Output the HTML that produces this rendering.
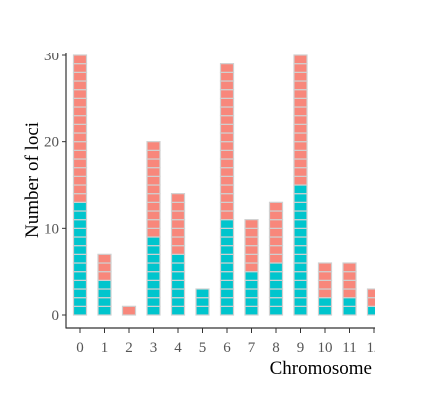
<!DOCTYPE html>
<html><head><meta charset="utf-8"><style>
body{margin:0;background:#fff}
svg{display:block;font-family:"Liberation Serif",serif}
</style></head><body>
<svg width="424" height="400">
<defs><clipPath id="c"><rect x="0" y="53" width="375" height="347"/></clipPath></defs>
<g id="bars" clip-path="url(#c)"></g>
<g id="axes" clip-path="url(#c)"></g>
<text x="38" y="180" transform="rotate(-90 38 180)" text-anchor="middle" font-size="19" fill="#000">Number of loci</text>
<text x="372" y="374" text-anchor="end" font-size="19" fill="#000">Chromosome</text>
</svg>
<script>
const categories=["0","1","2","3","4","5","6","7","8","9","10","11","12"];
const teal=[13,4,0,9,7,3,11,5,6,15,2,2,1];
const salmon=[17,3,1,11,7,0,18,6,7,15,4,4,2];
const yTicks=[0,10,20,30];
const NS="http://www.w3.org/2000/svg";
const y=v=>315-v*8.667;
const x=i=>80+i*24.5;
const bars=document.getElementById('bars'),axes=document.getElementById('axes');
function mk(t,a,p){const e=document.createElementNS(NS,t);for(const k in a)e.setAttribute(k,a[k]);p.appendChild(e);return e;}
categories.forEach((c,i)=>{
  const tot=teal[i]+salmon[i];
  for(let k=0;k<tot;k++){
    const r=mk('rect',{x:x(i)-6.5,y:y(k+1),width:13,height:8.667,fill:k<teal[i]?'#00c5cd':'#f8877b',stroke:'#d0d0d0','stroke-width':1.2},bars);
    
    
  }
  const t=mk('line',{x1:x(i),x2:x(i),y1:328,y2:333,stroke:'#333'},axes);
  
  
  const l=mk('text',{x:x(i),y:352,'text-anchor':'middle','font-size':15,fill:'#555'},axes);l.textContent=c;
  
  
});
yTicks.forEach(v=>{
  const t=mk('line',{x1:62,x2:66,y1:y(v),y2:y(v),stroke:'#333'},axes);
  
  
  const l=mk('text',{x:59,y:y(v)+5,'text-anchor':'end','font-size':15,fill:'#555'},axes);l.textContent=v;
  
  
});
const ya=mk('line',{x1:66,x2:66,y1:52,y2:328.5,stroke:'#333','stroke-width':1.2},axes);


const xa=mk('line',{x1:66,x2:375,y1:328,y2:328,stroke:'#333','stroke-width':1.2},axes);


</script>
</body></html>
